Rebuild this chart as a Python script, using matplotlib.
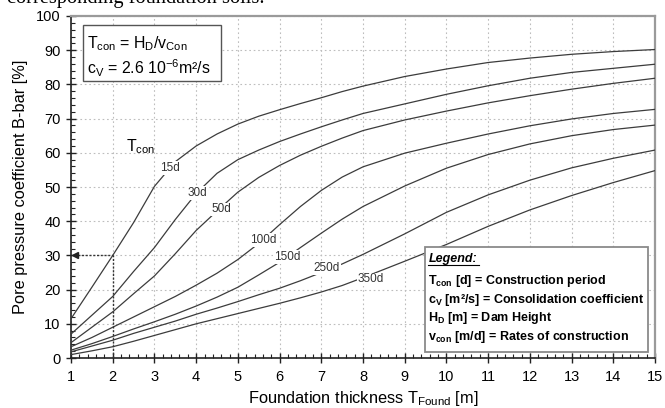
import matplotlib
matplotlib.use("Agg")
import matplotlib.pyplot as plt
from matplotlib.patches import Rectangle

# ------------------------------------------------------------
# Data (B-bar [%] vs foundation thickness [m])
# ------------------------------------------------------------
X_FOUND = [1, 1.5, 2, 2.5, 3, 3.5, 4, 4.5, 5, 5.5, 6, 6.5, 7, 7.5, 8,
           9, 10, 11, 12, 13, 14, 15]

B_15D = [11.5, 20.7, 30, 39.6, 50.2, 57.4, 62, 65.5, 68.4, 70.7, 72.6, 74.4,
         76.1, 77.9, 79.5, 82.3, 84.5, 86.4, 87.7, 88.8, 89.6, 90.2]
B_30D = [7, 12.5, 18, 25.3, 32.3, 40.5, 48.1, 54, 58, 60.8, 63.3, 65.5,
         67.6, 69.6, 71.5, 74.3, 77.1, 79.6, 81.8, 83.5, 84.7, 85.9]
B_50D = [4.5, 9, 13.5, 18.8, 24, 30.5, 37.3, 43, 48.5, 52.8, 56.3, 59.3,
         61.9, 64.3, 66.5, 69.6, 72.2, 74.6, 76.7, 78.6, 80.3, 81.8]
B_100D = [3.3, 6, 9, 12, 15, 18, 21.3, 24.8, 28.8, 33.5, 39, 44.3,
          49, 52.9, 55.9, 59.9, 62.8, 65.5, 67.9, 69.9, 71.5, 72.7]
B_150D = [2.3, 4.2, 6.3, 8.5, 10.6, 12.8, 15.2, 17.8, 20.7, 24.3, 28, 32.3,
          36.5, 40.6, 44.3, 50.3, 55.5, 59.5, 62.6, 65, 66.8, 68.1]
B_250D = [1.8, 3.5, 5.2, 7.2, 9, 10.8, 12.8, 14.6, 16.5, 18.5, 20.4, 22.6,
          25, 27.5, 30.3, 36.3, 42.6, 47.7, 52, 55.6, 58.4, 60.8]
B_350D = [1, 2.1, 3.3, 4.9, 6.6, 8.3, 10, 11.5, 13, 14.5, 16, 17.6,
          19.3, 21.2, 23.5, 28.3, 33.2, 38.5, 43.3, 47.5, 51.3, 54.8]

CURVES = [B_15D, B_30D, B_50D, B_100D, B_150D, B_250D, B_350D]
CURVE_NAMES = ["15d", "30d", "50d", "100d", "150d", "250d", "350d"]

# reading example (dashed arrow)
REF_X = 2
REF_Y = 30

X_TICKS = list(range(1, 16))
Y_TICKS = list(range(0, 101, 10))

plt.rcParams["font.family"] = ["Liberation Sans", "DejaVu Sans"]
plt.rcParams["mathtext.default"] = "regular"

LINE_COLOR = "#3c3c3c"

fig = plt.figure(figsize=(6.65, 4.08), dpi=100)
ax = fig.add_axes([0.1068, 0.1225, 0.8782, 0.8383])

for vals in CURVES:
    ax.plot(X_FOUND, vals, color=LINE_COLOR, lw=0.9, zorder=3)

# curve labels sit on the lines and interrupt them
label_pos = [(3.37, 55.5), (4.02, 48.3), (4.6, 43.5), (5.6, 34.5),
             (6.18, 29.5), (7.13, 26.3), (8.18, 23.0)]
for name, (lx, ly) in zip(CURVE_NAMES, label_pos):
    ax.text(lx, ly, name, fontsize=8.5, color="#333333", ha="center", va="center",
            zorder=4, bbox=dict(facecolor="white", edgecolor="none", pad=0.5))

ax.text(2.32, 61.7, r"T$_{con}$", fontsize=11.5, ha="left", va="center", zorder=4)

# dashed reading line
ax.plot([1.08, REF_X], [REF_Y, REF_Y], color="#333333", lw=1.0,
        ls=(0, (1.5, 1.2)), zorder=3)
ax.plot([REF_X, REF_X], [0, REF_Y], color="#333333", lw=1.0,
        ls=(0, (1.5, 1.2)), zorder=3)
ax.plot(1.1, REF_Y, marker="<", ms=4, color="#222222", zorder=4, clip_on=False)

ax.set_xlim(1, 15)
ax.set_ylim(0, 100)
ax.set_xticks(X_TICKS)
ax.set_yticks(Y_TICKS)
ax.set_xticks([x / 5 for x in range(5, 76)], minor=True)
ax.set_yticks(list(range(0, 101, 2)), minor=True)
ax.grid(True, which="major", color="#bdbdbd", ls=(0, (1.5, 2.5)), lw=0.8)

ax.tick_params(which="major", direction="inout", length=7, width=1.0,
               labelsize=10.5, color="#222222", pad=4)
ax.tick_params(which="minor", direction="in", length=3, width=0.8, color="#222222")
ax.tick_params(axis="x", which="major", pad=5)

for side in ["left", "bottom"]:
    ax.spines[side].set_color("#222222")
    ax.spines[side].set_linewidth(1.2)
for side in ["top", "right"]:
    ax.spines[side].set_color("#9a9a9a")
    ax.spines[side].set_linewidth(1.6)

ax.set_ylabel("Pore pressure coefficient B-bar [%]", fontsize=11.8, labelpad=6)
ax.set_xlabel(r"Foundation thickness T$_{Found}$ [m]", fontsize=11.8, labelpad=4)

# top-left info box
ax.add_patch(Rectangle((0.0205, 0.81), 0.2365, 0.164, transform=ax.transAxes,
                       facecolor="white", edgecolor="#555555", lw=1.0, zorder=5))
ax.text(0.027, 0.905, r"T$_{con}$ = H$_D$/v$_{Con}$", transform=ax.transAxes,
        fontsize=11.4, va="baseline", zorder=6)
ax.text(0.027, 0.83, r"c$_V$ = 2.6 10$^{-6}$m²/s", transform=ax.transAxes,
        fontsize=11.4, va="baseline", zorder=6)

# bottom-right legend box
ax.add_patch(Rectangle((0.606, 0.0175), 0.382, 0.307, transform=ax.transAxes,
                       facecolor="white", edgecolor="#8a8a8a", lw=1.3, zorder=5))
ax.text(0.612, 0.281, "Legend:", transform=ax.transAxes, fontsize=9,
        fontweight="bold", fontstyle="italic", va="baseline", zorder=6)
ax.plot([0.612, 0.698], [0.271, 0.271], transform=ax.transAxes,
        color="black", lw=0.8, zorder=6)
legend_lines = [r"T$_{con}$ [d] = Construction period",
                r"c$_V$ [m²/s] = Consolidation coefficient",
                r"H$_D$ [m] = Dam Height",
                r"v$_{con}$ [m/d] = Rates of construction"]
for i, line in enumerate(legend_lines):
    ax.text(0.612, 0.216 - i * 0.0545, line, transform=ax.transAxes, fontsize=9,
            fontweight="bold", va="baseline", zorder=6)

# clipped sentence from the surrounding document
fig.text(0.011, 1 - 2.5 / 408, "corresponding foundation soils.",
         family=["Liberation Serif", "DejaVu Serif"], fontsize=14.7, va="baseline")

fig.savefig("out.png", dpi=100)
